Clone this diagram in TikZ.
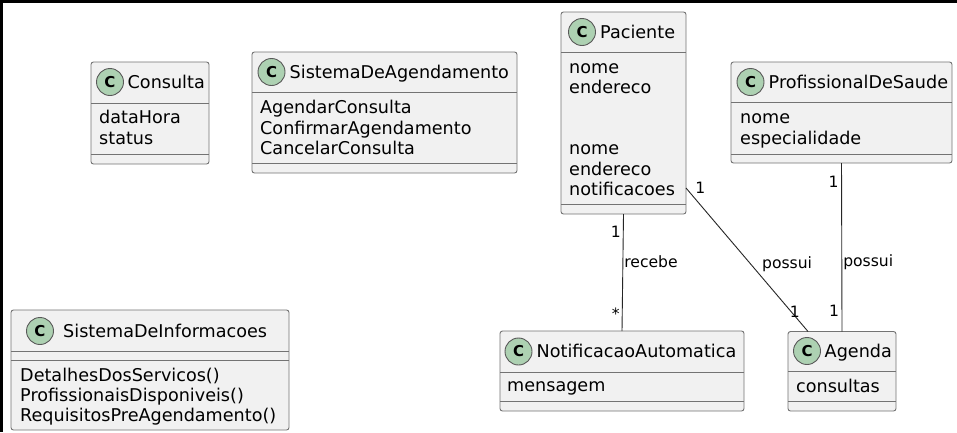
\documentclass[tikz,border=0pt]{standalone}
\usepackage{fontspec}
\setmainfont{DejaVu Sans}
\definecolor{boxfill}{HTML}{F1F1F1}
\definecolor{badgefill}{HTML}{ADD1B2}
\begin{document}
\begin{tikzpicture}[x=1pt, y=-1pt,
    classbox/.style={draw=black!55, line width=0.9pt, fill=boxfill, rounded corners=2.5pt,
        inner sep=0pt, outer sep=0pt, anchor=north west},
    divider/.style={draw=black!55, line width=0.9pt},
    badge/.style={circle, draw=black!65, line width=0.9pt, fill=badgefill, minimum size=27pt,
        inner sep=0pt, font=\fontsize{15}{15}\selectfont\bfseries},
    classname/.style={anchor=base west, inner sep=0pt, font=\fontsize{17.6}{20.5}\selectfont},
    member/.style={anchor=base west, inner sep=0pt, font=\fontsize{17.6}{20.5}\selectfont},
    assoc/.style={draw=black!85, line width=0.9pt},
    lbl/.style={inner sep=0pt, font=\fontsize{15.6}{16}\selectfont}]
    \useasboundingbox (0,0) rectangle (957,432);
    \fill[white] (0,0) rectangle (957,432);
    \fill[black] (0,0) rectangle (957,3);
    \fill[black] (0,0) rectangle (3,432);

    % Consulta
    \node[classbox, minimum width=118pt, minimum height=102pt] (consulta) at (91,62) {};
    \node[badge] (consulta-c) at (110,82) {C};
    \node[classname] (consulta-name) at (127.5,88.3) {Consulta};
    \draw[divider] ([yshift=-41pt]consulta.north west) -- ([yshift=-41pt]consulta.north east);
    \draw[divider] ([yshift=10pt]consulta.south west) -- ([yshift=10pt]consulta.south east);
    \foreach \m [count=\i from 0] in {dataHora, status}
        \node[member] (consulta-m\i) at (99,123.5+20.5*\i) {\m};

    % SistemaDeAgendamento
    \node[classbox, minimum width=265pt, minimum height=121pt] (agendamento) at (252,52) {};
    \node[badge] (agendamento-c) at (271.5,72) {C};
    \node[classname] (agendamento-name) at (289.5,78.3) {SistemaDeAgendamento};
    \draw[divider] ([yshift=-40pt]agendamento.north west) -- ([yshift=-40pt]agendamento.north east);
    \draw[divider] ([yshift=10pt]agendamento.south west) -- ([yshift=10pt]agendamento.south east);
    \foreach \m [count=\i from 0] in {AgendarConsulta, ConfirmarAgendamento, CancelarConsulta}
        \node[member] (agendamento-m\i) at (260,113.5+20.5*\i) {\m};

    % Paciente
    \node[classbox, minimum width=125pt, minimum height=202pt] (paciente) at (561,12) {};
    \node[badge] (paciente-c) at (582,32) {C};
    \node[classname] (paciente-name) at (600,38.3) {Paciente};
    \draw[divider] ([yshift=-40pt]paciente.north west) -- ([yshift=-40pt]paciente.north east);
    \draw[divider] ([yshift=10pt]paciente.south west) -- ([yshift=10pt]paciente.south east);
    \foreach \m/\yb [count=\i] in {nome/73.5, endereco/93.8, nome/154.7, endereco/175, notificacoes/195.3}
        \node[member] (paciente-m\i) at (569,\yb) {\m};

    % ProfissionalDeSaude
    \node[classbox, minimum width=221pt, minimum height=101pt] (profissional) at (731,62) {};
    \node[badge] (profissional-c) at (750.5,82) {C};
    \node[classname] (profissional-name) at (768.5,88.3) {ProfissionalDeSaude};
    \draw[divider] ([yshift=-40pt]profissional.north west) -- ([yshift=-40pt]profissional.north east);
    \draw[divider] ([yshift=9pt]profissional.south west) -- ([yshift=9pt]profissional.south east);
    \foreach \m [count=\i from 0] in {nome, especialidade}
        \node[member] (profissional-m\i) at (740,123.5+20.5*\i) {\m};

    % SistemaDeInformacoes
    \node[classbox, minimum width=278pt, minimum height=120pt] (informacoes) at (11,310) {};
    \node[badge] (informacoes-c) at (40,331) {C};
    \node[classname] (informacoes-name) at (63,337.3) {SistemaDeInformacoes};
    \draw[divider] ([yshift=-41pt]informacoes.north west) -- ([yshift=-41pt]informacoes.north east);
    \draw[divider] ([yshift=-50.5pt]informacoes.north west) -- ([yshift=-50.5pt]informacoes.north east);
    \foreach \m [count=\i from 0] in {DetalhesDosServicos(), ProfissionaisDisponiveis(), RequisitosPreAgendamento()}
        \node[member] (informacoes-m\i) at (20,381.5+20*\i) {\m};

    % NotificacaoAutomatica
    \node[classbox, minimum width=244pt, minimum height=80pt] (notificacao) at (500,331) {};
    \node[badge] (notificacao-c) at (518.5,351.5) {C};
    \node[classname] (notificacao-name) at (536.5,357.8) {NotificacaoAutomatica};
    \draw[divider] ([yshift=-41pt]notificacao.north west) -- ([yshift=-41pt]notificacao.north east);
    \draw[divider] ([yshift=10pt]notificacao.south west) -- ([yshift=10pt]notificacao.south east);
    \node[member] (notificacao-m0) at (507,391.5) {mensagem};

    % Agenda
    \node[classbox, minimum width=108pt, minimum height=79.5pt] (agenda) at (788,331.5) {};
    \node[badge] (agenda-c) at (807,351) {C};
    \node[classname] (agenda-name) at (824.5,357.3) {Agenda};
    \draw[divider] ([yshift=-39.5pt]agenda.north west) -- ([yshift=-39.5pt]agenda.north east);
    \draw[divider] ([yshift=10pt]agenda.south west) -- ([yshift=10pt]agenda.south east);
    \node[member] (agenda-m0) at (796,392.5) {consultas};

    % associations
    \draw[assoc] (paciente.south) -- (notificacao.north)
        node[lbl, pos=0.155, anchor=east, xshift=-2pt] (recebe-a) {1}
        node[lbl, pos=0.41, anchor=west, xshift=1pt] (recebe-lbl) {recebe}
        node[lbl, pos=0.85, anchor=east, xshift=-2pt] (recebe-b) {*};
    \draw[assoc] ([yshift=26pt]paciente.south east) -- ([xshift=20pt]agenda.north west)
        node[lbl, at start, anchor=west, xshift=9pt] (possui-a) {1}
        node[lbl, pos=0.53, anchor=west, xshift=11pt] (possui-lbl) {possui}
        node[lbl, pos=0.86, xshift=4pt] (possui-b) {1};
    \draw[assoc] (profissional.south) -- (agenda.north)
        node[lbl, pos=0.11, anchor=east, xshift=-2.5pt] (possui2-a) {1}
        node[lbl, pos=0.59, anchor=west, xshift=1pt] (possui2-lbl) {possui}
        node[lbl, pos=0.88, anchor=east, xshift=-2.5pt] (possui2-b) {1};
\end{tikzpicture}
\end{document}
